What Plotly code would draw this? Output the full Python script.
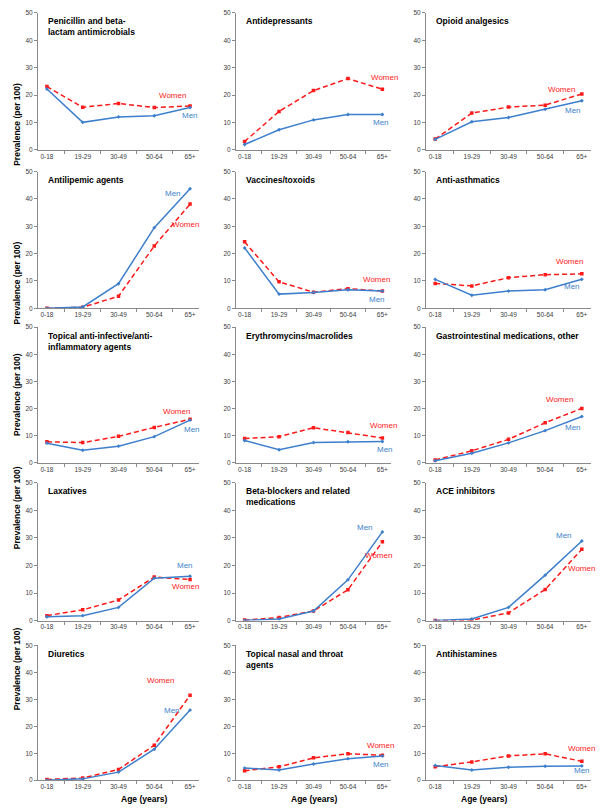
import plotly.graph_objects as go

categories = ["0-18", "19-29", "30-49", "50-64", "65+"]

titles = [
    "Penicillin and beta-<br>lactam antimicrobials",
    "Antidepressants",
    "Opioid analgesics",
    "Antilipemic agents",
    "Vaccines/toxoids",
    "Anti-asthmatics",
    "Topical anti-infective/anti-<br>inflammatory agents",
    "Erythromycins/macrolides",
    "Gastrointestinal medications, other",
    "Laxatives",
    "Beta-blockers and related<br>medications",
    "ACE inhibitors",
    "Diuretics",
    "Topical nasal and throat<br>agents",
    "Antihistamines",
]

men = [
    [22.2, 10.0, 12.0, 12.4, 15.4],
    [1.9, 7.3, 10.9, 12.9, 12.9],
    [3.8, 10.2, 11.8, 14.8, 17.9],
    [0.0, 0.5, 9.0, 29.5, 43.7],
    [22.1, 5.2, 5.8, 6.8, 6.3],
    [10.6, 4.8, 6.3, 6.8, 10.6],
    [7.3, 4.7, 6.2, 9.7, 15.8],
    [8.3, 4.9, 7.5, 7.8, 7.9],
    [0.8, 3.6, 7.4, 11.9, 17.1],
    [1.4, 1.8, 4.8, 15.4, 16.1],
    [0.1, 0.6, 3.5, 14.8, 32.2],
    [0.0, 0.6, 4.8, 16.5, 28.9],
    [0.0, 0.5, 3.0, 11.5, 26.0],
    [4.5, 3.8, 6.0, 8.0, 9.0],
    [5.5, 3.8, 4.8, 5.2, 5.3],
]

women = [
    [23.1, 15.5, 16.9, 15.4, 16.0],
    [3.0, 14.0, 21.6, 26.0, 22.1],
    [3.9, 13.4, 15.6, 16.3, 20.4],
    [0.0, 0.4, 4.4, 22.8, 38.1],
    [24.3, 9.7, 5.9, 7.2, 6.3],
    [9.1, 8.2, 11.2, 12.3, 12.6],
    [7.8, 7.5, 9.8, 13.1, 16.1],
    [9.0, 9.7, 13.0, 11.2, 9.2],
    [1.1, 4.5, 8.7, 14.8, 20.1],
    [1.8, 3.9, 7.5, 15.8, 14.9],
    [0.2, 1.1, 3.5, 11.2, 28.6],
    [0.0, 0.2, 2.8, 11.3, 25.9],
    [0.3, 0.8, 4.0, 13.0, 31.5],
    [3.5, 5.0, 8.3, 9.8, 9.3],
    [5.0, 6.8, 9.0, 9.8, 7.0],
]

y_ticks = [0, 10, 20, 30, 40, 50]
y_title = "Prevalence (per 100)"
x_title = "Age (years)"

# label placement (category index, value) for "Men" / "Women" text
men_label_pos = [(4.0, 12.4), (3.95, 10.0), (3.75, 14.5), (3.52, 41.9), (3.85, 3.3),
                 (3.72, 7.9), (4.05, 12.4), (4.09, 5.0), (3.75, 13.2), (3.86, 20.0),
                 (3.5, 33.7), (3.5, 31.0), (3.5, 25.7), (3.95, 5.9), (4.0, 3.7)]
women_label_pos = [(3.52, 20.0), (4.05, 26.5), (3.45, 22.0), (3.86, 30.8), (3.83, 10.6),
                   (3.67, 17.0), (3.63, 18.8), (4.03, 13.8), (3.4, 23.5), (3.86, 12.5),
                   (3.9, 23.7), (4.0, 18.9), (3.16, 37.0), (3.95, 12.9), (4.0, 11.8)]

W, H = 600, 808
MEN_C = "#3d7fcc"
WOMEN_C = "#ff1a1a"
AX_C = "#8a8a8a"
TXT_C = "#404040"
FONT = "Liberation Sans, Arial, sans-serif"

col_px = [(38, 199), (236, 391), (426, 591)]
row_px = [(9, 147), (169, 307), (326, 463), (483, 622), (647, 783)]

fig = go.Figure()
layout = dict(
    width=W, height=H, margin=dict(l=0, r=0, t=0, b=0),
    paper_bgcolor="white", plot_bgcolor="white", showlegend=False,
    font=dict(family=FONT, size=7, color=TXT_C),
)
annotations = []

for i in range(15):
    r, c = divmod(i, 3)
    n = i + 1
    xa = "xaxis" if n == 1 else f"xaxis{n}"
    ya = "yaxis" if n == 1 else f"yaxis{n}"
    xr = "x" if n == 1 else f"x{n}"
    yr = "y" if n == 1 else f"y{n}"
    x0, x1 = col_px[c]
    y0, y1 = row_px[r]
    layout[xa] = dict(
        domain=[x0 / W, x1 / W], anchor=yr, type="category",
        categoryorder="array", categoryarray=categories,
        range=[-0.25, 4.25], showline=True, linecolor=AX_C, linewidth=1,
        ticks="outside", ticklen=3, tickcolor=AX_C, tickson="boundaries",
        showgrid=False, zeroline=False,
        tickfont=dict(size=6.5, color=TXT_C, family=FONT),
    )
    layout[ya] = dict(
        domain=[1 - y1 / H, 1 - y0 / H], anchor=xr,
        range=[0, 50], tickvals=y_ticks, showline=True, linecolor=AX_C,
        linewidth=1, ticks="outside", ticklen=3, tickcolor=AX_C,
        showgrid=False, zeroline=False,
        tickfont=dict(size=6.5, color=TXT_C, family=FONT),
    )
    fig.add_trace(go.Scatter(
        x=categories, y=women[i], mode="lines+markers", xaxis=xr, yaxis=yr,
        line=dict(color=WOMEN_C, width=1.5, dash="5px,3px"),
        marker=dict(color=WOMEN_C, size=3.5, symbol="square"), name="Women"))
    fig.add_trace(go.Scatter(
        x=categories, y=men[i], mode="lines+markers", xaxis=xr, yaxis=yr,
        line=dict(color=MEN_C, width=1.5),
        marker=dict(color=MEN_C, size=3, symbol="diamond"), name="Men"))

    annotations.append(dict(
        text="<b>" + titles[i] + "</b>", xref=f"{xr} domain", yref=f"{yr} domain",
        x=0.05, y=0.99, xanchor="left", yanchor="top", showarrow=False, align="left",
        font=dict(size=8.5, color="black", family=FONT)))
    mx, my = men_label_pos[i]
    wx, wy = women_label_pos[i]
    annotations.append(dict(text="Men", x=mx, y=my, xref=xr, yref=yr, showarrow=False,
                            font=dict(size=8, color=MEN_C, family=FONT)))
    annotations.append(dict(text="Women", x=wx, y=wy, xref=xr, yref=yr, showarrow=False,
                            font=dict(size=8, color=WOMEN_C, family=FONT)))

    if c == 0:
        annotations.append(dict(
            text="<b>" + y_title + "</b>", xref="paper", yref="paper",
            x=10 / W, y=1 - (y0 + y1) / 2 / H, textangle=-90, showarrow=False,
            font=dict(size=8.5, color="black", family=FONT)))
    if r == 4:
        annotations.append(dict(
            text="<b>" + x_title + "</b>", xref="paper", yref="paper",
            x=(x0 + x1) / 2 / W, y=0, yanchor="bottom", yshift=-1, showarrow=False,
            font=dict(size=8.5, color="black", family=FONT)))

layout["annotations"] = annotations
fig.update_layout(**layout)
fig.write_html("out.html", config={"displayModeBar": False},
               post_script="document.body.style.margin='0';document.body.style.overflow='hidden';")
